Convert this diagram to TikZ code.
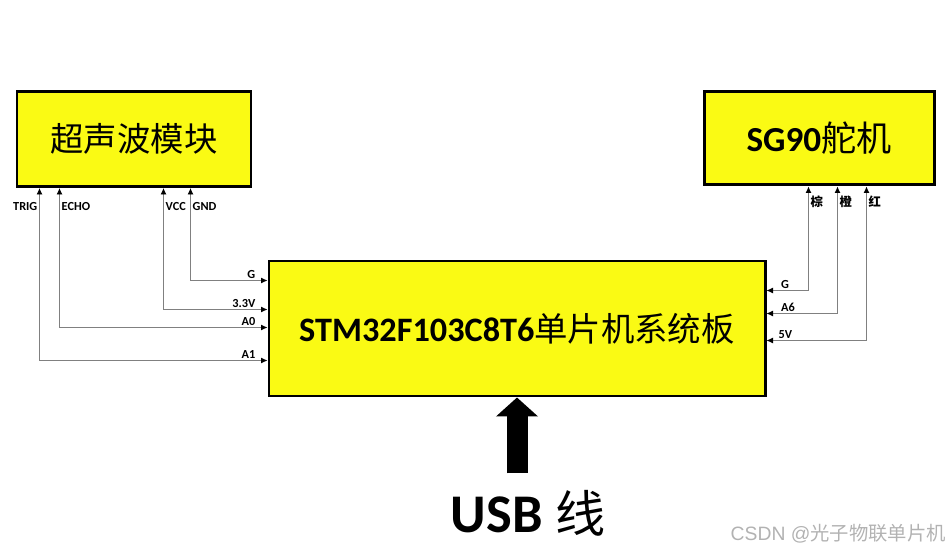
\documentclass[tikz,border=0pt]{standalone}
\usepackage{fontspec}
\setmainfont{Carlito}
\newfontfamily\cjk{Noto Sans CJK SC}
\newfontfamily\wmfont{Liberation Sans}
\usetikzlibrary{positioning,arrows.meta,calc}
\definecolor{boardyellow}{RGB}{250,250,20}
\tikzset{>={Latex[length=1.3mm,width=1.2mm,color=black]}}
\tikzset{
    module/.style={draw, fill=boardyellow, line width=1.7pt, inner sep=0pt},
    wire/.style={<->, draw=black!50, line width=0.5pt},
    pinlbl/.style={font=\bfseries\fontsize{7}{8}\selectfont, inner sep=1pt},
    cnlbl/.style={font=\cjk\bfseries\fontsize{7}{8}\selectfont, inner sep=1pt},
}

\begin{document}
\begin{tikzpicture}
    \useasboundingbox (0,0) rectangle (19.02,-11.04);
    \node[module, minimum width=4.68cm, minimum height=1.9cm] (sonar) at (2.68,-2.78)
        {\cjk\fontsize{19}{22}\selectfont 超声波模块};
    \node[module, minimum width=4.6cm, minimum height=1.86cm] (servo) at (16.38,-2.77)
        {\bfseries\fontsize{20}{24}\selectfont SG90{\cjk\mdseries 舵机}};
    \node[module, minimum width=9.92cm, minimum height=2.7cm] (mcu) at (10.34,-6.57)
        {\bfseries\fontsize{19.5}{24}\selectfont STM32F103C8T6{\cjk\mdseries\fontsize{19}{24}\selectfont 单片机系统板}};
    \node (usb) at (10.56,-10.26) {\bfseries\fontsize{31}{36}\selectfont USB {\cjk\mdseries\fontsize{28.5}{32}\selectfont 线}};
    \coordinate (usbtail) at ([yshift=-1.52cm]mcu.south);
    \draw[line width=0.42cm, -{Triangle[length=0.38cm,width=0.82cm]}] (usbtail) -- (mcu.south);

    % ultrasonic module to board
    \draw[wire] ([yshift=-0.42cm]mcu.north west) node[pinlbl, above left, xshift=-0.2cm] {G}
        -| ([xshift=3.5cm]sonar.south west) node[pinlbl, below right, yshift=-0.25cm] {GND};
    \draw[wire] ([yshift=-1.0cm]mcu.north west) node[pinlbl, above left, xshift=-0.2cm] {3.3V}
        -| ([xshift=2.96cm]sonar.south west) node[pinlbl, below right, yshift=-0.25cm] {VCC};
    \draw[wire] ([yshift=-1.36cm]mcu.north west) node[pinlbl, above left, xshift=-0.2cm] {A0}
        -| ([xshift=0.88cm]sonar.south west) node[pinlbl, below right, yshift=-0.25cm] {ECHO};
    \draw[wire] ([yshift=-2.02cm]mcu.north west) node[pinlbl, above left, xshift=-0.2cm] {A1}
        -| ([xshift=0.48cm]sonar.south west) node[pinlbl, below left, yshift=-0.25cm] {TRIG};

    % servo to board
    \draw[wire] ([yshift=-0.62cm]mcu.north east) node[pinlbl, above right, xshift=0.25cm] {G}
        -| ([xshift=2.12cm]servo.south west) node[cnlbl, below right, yshift=-0.14cm] {棕};
    \draw[wire] ([yshift=-1.08cm]mcu.north east) node[pinlbl, above right, xshift=0.25cm] {A6}
        -| ([xshift=2.7cm]servo.south west) node[cnlbl, below right, yshift=-0.14cm] {橙};
    \draw[wire] ([yshift=-1.62cm]mcu.north east) node[pinlbl, above right, xshift=0.2cm] {5V}
        -| ([xshift=3.28cm]servo.south west) node[cnlbl, below right, yshift=-0.14cm] {红};

    \node[text=black!30, font=\wmfont\fontsize{11}{13}\selectfont, anchor=east] (mark) at (19.04,-10.68)
        {CSDN @{\cjk 光子物联单片机}};
\end{tikzpicture}
\end{document}
